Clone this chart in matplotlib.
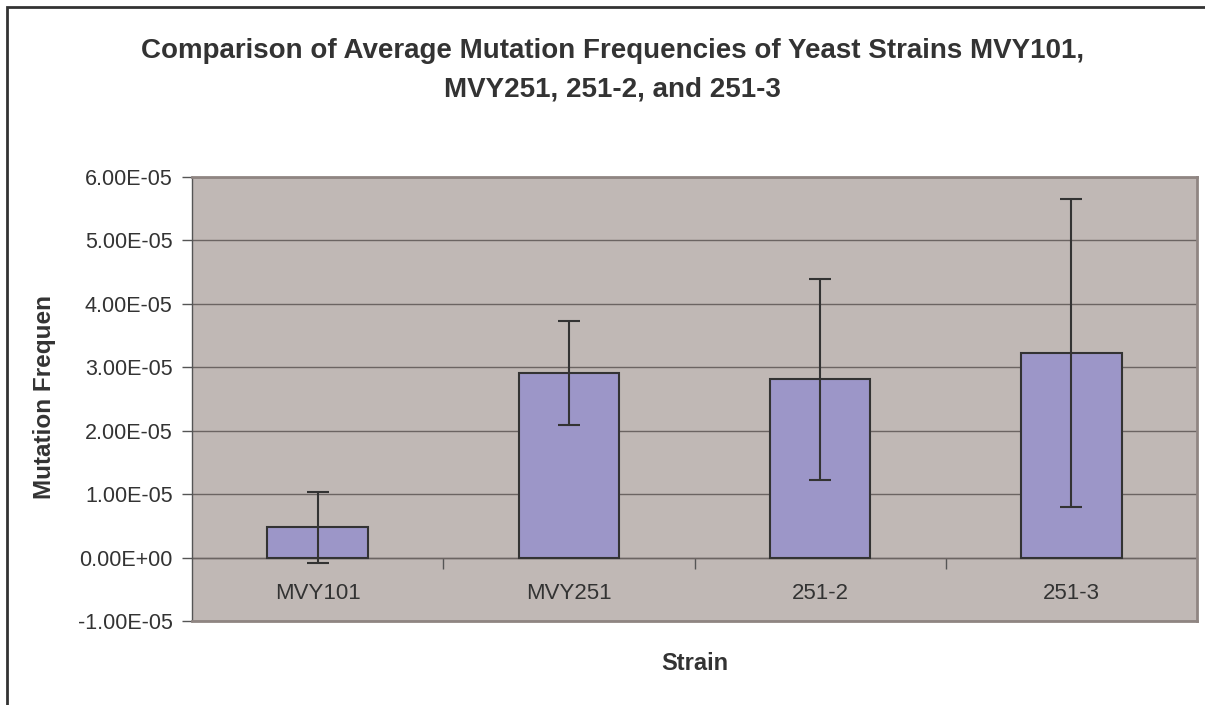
import numpy as np
import matplotlib
matplotlib.use("Agg")
import matplotlib.pyplot as plt
from matplotlib.ticker import FuncFormatter, FixedLocator
from matplotlib.patches import Rectangle

# data
strains = ["MVY101", "MVY251", "251-2", "251-3"]
freq = [4.8e-6, 2.91e-5, 2.81e-5, 3.22e-5]
err = [5.6e-6, 8.2e-6, 1.58e-5, 2.43e-5]

plt.rcParams['font.family'] = ['Liberation Sans', 'DejaVu Sans']

fig = plt.figure(figsize=(12.05, 7.05), dpi=100)
ax = fig.add_axes([192/1205, 1-621/705, (1197-192)/1205, (621-177)/705])
ax.set_facecolor("#c0b8b5")

# outer chart border (only top/left visible in the original)
fig.patches.append(Rectangle((7/1205, -0.05), 1.2, 1-7/705+0.05, transform=fig.transFigure,
                             fill=False, edgecolor="#333333", linewidth=2))

x = np.arange(len(strains))
ax.bar(x, freq, width=0.4, color="#9c96c8", edgecolor="#333333", linewidth=1.5, zorder=3)
ax.errorbar(x, freq, yerr=err, fmt="none", ecolor="#333333", elinewidth=1.5,
            capsize=8, capthick=1.5, zorder=4)

ax.set_xlim(-0.5, len(strains)-0.5)
ax.set_ylim(-1e-5, 6e-5)
ax.set_yticks(np.arange(-1e-5, 6.01e-5, 1e-5))
ax.yaxis.set_major_formatter(FuncFormatter(lambda v, p: f"{v:.2E}"))
ax.tick_params(axis="y", length=7, width=1, color="#555555", pad=7, labelsize=15.5, labelcolor="#333333")
ax.grid(axis="y", color="#6b6462", linewidth=1, zorder=1)
ax.set_axisbelow(True)

for s in ax.spines.values():
    s.set_color("#8f8582")
    s.set_linewidth(2)
ax.spines["left"].set_color("#555555")
ax.spines["left"].set_linewidth(1)

# category axis sits on the zero line
ax.set_xticks([])
sec = ax.secondary_xaxis(1/7)
sec.spines["bottom"].set_color("#6b6462")
sec.spines["bottom"].set_linewidth(1)
sec.set_xticks(x)
sec.set_xticklabels(strains)
sec.xaxis.set_minor_locator(FixedLocator(x[:-1] + 0.5))
sec.tick_params(axis="x", which="major", length=0, pad=18, labelsize=16, labelcolor="#333333")
sec.tick_params(axis="x", which="minor", length=8, width=1, color="#555555", direction="out")

fig.text(0.508, 1-70/705, "Comparison of Average Mutation Frequencies of Yeast Strains MVY101,\nMVY251, 251-2, and 251-3",
         ha="center", va="center", fontsize=20, fontweight="bold", color="#333333", linespacing=1.65)
fig.text(45/1205, 1-397/705, "Mutation Frequen", rotation=90, ha="center", va="center",
         fontsize=17.5, fontweight="bold", color="#333333")
fig.text(695/1205, 1-663/705, "Strain", ha="center", va="center",
         fontsize=17, fontweight="bold", color="#333333")

fig.savefig("out.png", dpi=100)
